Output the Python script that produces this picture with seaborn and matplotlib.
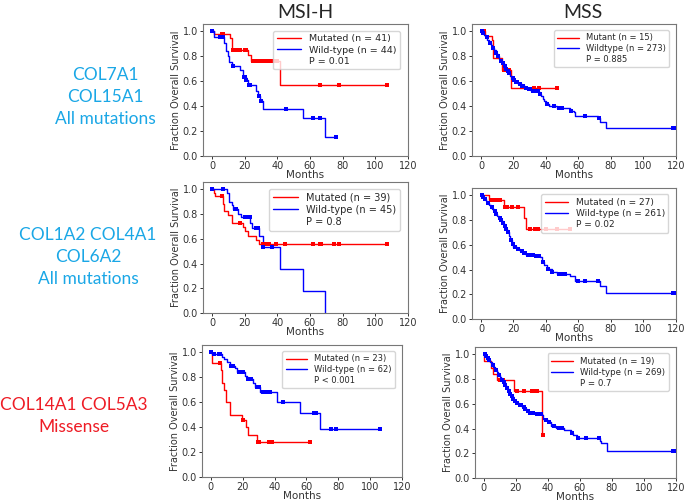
import numpy as np
import matplotlib
matplotlib.use("Agg")
import matplotlib.pyplot as plt
from matplotlib.lines import Line2D
import seaborn as sns

# ---- MSI-H, COL7A1 / COL15A1 ----
p1_mut_t = [0, 1, 11, 12.3, 22.2, 23.9, 41.6, 107]
p1_mut_s = [1.0, 0.976, 0.951, 0.853, 0.81, 0.764, 0.574, 0.574]
p1_mut_c = [6, 7, 13, 14, 15, 16, 17, 20, 21, 25, 27, 29, 30, 31, 32, 34, 36, 38, 40, 66, 78, 107]
p1_wt_t = [0, 1, 7.4, 8.3, 10, 10.6, 12, 13, 17, 19, 21, 22, 27, 28.3, 29.5, 31.2, 56, 69, 76]
p1_wt_s = [1.0, 0.955, 0.91, 0.847, 0.80, 0.753, 0.735, 0.72, 0.69, 0.638, 0.61, 0.568, 0.525,
           0.483, 0.445, 0.38, 0.303, 0.153, 0.153]
p1_wt_c = [0, 5, 7, 13, 19.5, 20, 21, 22.5, 23, 29, 30, 45.5, 62, 66, 76]

# ---- MSS, COL7A1 / COL15A1 ----
p2_mut_t = [0, 2.5, 6.5, 7.2, 12.8, 18.5, 46.5]
p2_mut_s = [1.0, 0.965, 0.93, 0.788, 0.69, 0.55, 0.55]
p2_mut_c = [1.5, 2, 14, 15, 16, 17, 32.5, 36, 46.5]
p2_wt_t = [0, 1, 2, 3, 4, 5, 6, 7, 8, 9, 10, 11, 12, 13, 14, 15, 16, 17, 18, 19, 20, 21, 23, 25,
           27, 29, 31, 36, 37, 38, 39, 40, 42, 47, 55, 57, 58, 72, 73, 77, 119]
p2_wt_s = [1.0, 0.985, 0.97, 0.955, 0.935, 0.91, 0.89, 0.87, 0.85, 0.825, 0.80, 0.78, 0.765,
           0.745, 0.725, 0.70, 0.68, 0.665, 0.645, 0.625, 0.61, 0.595, 0.58, 0.565, 0.545, 0.535,
           0.525, 0.50, 0.48, 0.46, 0.44, 0.42, 0.40, 0.383, 0.365, 0.35, 0.322, 0.303, 0.276,
           0.223, 0.223]
p2_wt_c = [0.5, 1.5, 3.5, 5.5, 7.5, 9.5, 10.5, 12.5, 13.5, 14.5, 15.5, 16.5, 17.5, 19.5, 20.5,
           21.5, 22, 24, 25.5, 26, 27.5, 28, 29.5, 30, 32, 33, 34, 35, 36.5, 40.5, 45, 48, 50,
           55.5, 64, 72.5, 118, 119]

# ---- MSI-H, COL1A2 / COL4A1 / COL6A2 ----
p3_mut_t = [0, 1, 2, 6.5, 7.5, 10, 12, 19, 20.5, 22, 27, 29, 107]
p3_mut_s = [1.0, 0.97, 0.944, 0.88, 0.823, 0.79, 0.729, 0.697, 0.665, 0.627, 0.587, 0.555, 0.555]
p3_mut_c = [6, 17, 31, 32, 33, 35, 39, 45, 62, 66, 67, 75, 78, 107]
p3_wt_t = [0, 9.2, 10.5, 12, 13, 16, 17.5, 23.5, 24.5, 29, 31, 41.5, 56, 69]
p3_wt_s = [1.0, 0.97, 0.90, 0.87, 0.84, 0.80, 0.777, 0.73, 0.689, 0.625, 0.533, 0.355, 0.18, 0.0]
p3_wt_c = [0, 7, 14, 15, 20, 21, 22, 23, 27, 28, 31.5, 36.5]

# ---- MSS, COL1A2 / COL4A1 / COL6A2 ----
p4_mut_t = [0, 4.7, 14, 26.5, 28, 55]
p4_mut_s = [1.0, 0.963, 0.906, 0.815, 0.727, 0.727]
p4_mut_c = [6, 7, 8, 9, 10, 12, 15, 16, 19, 23, 30, 33, 35, 40, 46.5, 55]
p4_wt_t = [0, 1, 2, 3, 4, 5, 6, 7, 8, 9, 10, 11, 12, 13, 14, 15, 16, 17, 18, 19, 20, 22, 24, 26,
           28, 33, 36.5, 37.5, 39, 40.5, 43.5, 47, 55, 58, 73, 77, 119]
p4_wt_s = [1.0, 0.985, 0.97, 0.955, 0.94, 0.925, 0.905, 0.89, 0.87, 0.85, 0.835, 0.815, 0.80,
           0.78, 0.755, 0.73, 0.70, 0.67, 0.64, 0.61, 0.585, 0.567, 0.55, 0.535, 0.52, 0.513,
           0.50, 0.465, 0.44, 0.406, 0.38, 0.364, 0.345, 0.305, 0.265, 0.209, 0.209]
p4_wt_c = [0.5, 1.5, 2.5, 4.5, 6.5, 8.5, 9.5, 11.5, 12.5, 13.5, 14.5, 15.5, 16.5, 18.5, 19.5,
           21, 22.5, 23, 25, 26.5, 27, 29, 30, 31, 32, 34, 35, 36, 38, 41, 44, 48, 50, 52,
           60, 64, 72, 118, 119]

# ---- MSI-H, COL14A1 / COL5A3 missense ----
p5_mut_t = [0, 0.5, 1, 6.5, 7, 8.5, 9.5, 12, 19.5, 22, 23.5, 29, 62]
p5_mut_s = [1.0, 0.955, 0.912, 0.86, 0.752, 0.70, 0.60, 0.501, 0.459, 0.40, 0.339, 0.28, 0.28]
p5_mut_c = [6, 20.5, 29.5, 30.5, 36.5, 38.5, 62]
p5_wt_t = [0, 1, 7, 8, 10, 12, 15, 16.5, 21.5, 22.5, 26.5, 28, 31, 41.5, 56, 68.5, 106.5]
p5_wt_s = [1.0, 0.984, 0.96, 0.945, 0.925, 0.893, 0.872, 0.84, 0.815, 0.787, 0.752, 0.72, 0.68,
           0.60, 0.515, 0.387, 0.387]
p5_wt_c = [0, 2, 5, 6, 13, 14, 18, 19, 20, 23.5, 24.5, 25, 29, 30, 33, 34, 36, 37, 45.5, 65, 66,
           75.5, 78.5, 106.5]

# ---- MSS, COL14A1 / COL5A3 missense ----
p6_mut_t = [0, 0.2, 4.2, 5.5, 8.5, 19, 36.5, 37]
p6_mut_s = [1.0, 0.944, 0.89, 0.843, 0.789, 0.701, 0.349, 0.349]
p6_mut_c = [10, 12, 21, 25, 30, 32, 33.5, 37]
p6_wt_t = [0, 1, 2, 3, 4, 5, 6, 7, 8, 9, 10, 11, 12, 13, 14, 15, 16, 17, 18, 19, 20, 22, 24, 26,
           27, 28, 32, 36.5, 37, 38, 40, 42, 45, 50, 54.6, 56, 58, 72.5, 73, 77, 119]
p6_wt_s = [1.0, 0.985, 0.97, 0.955, 0.935, 0.915, 0.895, 0.875, 0.855, 0.835, 0.815, 0.795,
           0.775, 0.75, 0.725, 0.70, 0.68, 0.66, 0.64, 0.62, 0.605, 0.59, 0.575, 0.555, 0.54,
           0.53, 0.52, 0.51, 0.48, 0.467, 0.45, 0.42, 0.405, 0.387, 0.368, 0.347, 0.325, 0.30,
           0.28, 0.221, 0.221]
p6_wt_c = [0.5, 1.5, 2.5, 3.5, 5.5, 7.5, 9.5, 11.5, 12.5, 13.5, 14.5, 15.5, 16.5, 17.5, 18.5,
           19.5, 21, 22.5, 23, 25, 26, 27.5, 29, 30, 31, 33, 34, 35, 36, 39, 41, 44, 47, 49,
           55, 58.5, 64, 72, 118, 119]

legend_labels = [
    ("Mutated (n = 41)", "Wild-type (n = 44)", "P = 0.01"),
    ("Mutant (n = 15)", "Wildtype (n = 273)", "P = 0.885"),
    ("Mutated (n = 39)", "Wild-type (n = 45)", "P = 0.8"),
    ("Mutated (n = 27)", "Wild-type (n = 261)", "P = 0.02"),
    ("Mutated (n = 23)", "Wild-type (n = 62)", "P < 0.001"),
    ("Mutated (n = 19)", "Wild-type (n = 269)", "P = 0.7"),
]
col_titles = ["MSI-H", "MSS"]
row_labels = ["COL7A1\nCOL15A1\nAll mutations",
              "COL1A2 COL4A1\nCOL6A2\nAll mutations",
              "COL14A1 COL5A3\nMissense"]
row_colors = ["#1aa7e6", "#1aa7e6", "#ee1c25"]

panels = [
    (p1_mut_t, p1_mut_s, p1_mut_c, p1_wt_t, p1_wt_s, p1_wt_c),
    (p2_mut_t, p2_mut_s, p2_mut_c, p2_wt_t, p2_wt_s, p2_wt_c),
    (p3_mut_t, p3_mut_s, p3_mut_c, p3_wt_t, p3_wt_s, p3_wt_c),
    (p4_mut_t, p4_mut_s, p4_mut_c, p4_wt_t, p4_wt_s, p4_wt_c),
    (p5_mut_t, p5_mut_s, p5_mut_c, p5_wt_t, p5_wt_s, p5_wt_c),
    (p6_mut_t, p6_mut_s, p6_mut_c, p6_wt_t, p6_wt_s, p6_wt_c),
]

sns.set_style("ticks")
plt.rcParams["font.family"] = ["DejaVu Sans"]

W, H = 685, 501
fig = plt.figure(figsize=(W / 100, H / 100), dpi=100)

# axes boxes in pixels: left, right, top, bottom
boxes = [(203, 408, 24, 156), (472, 676, 24, 156),
         (203, 408, 182, 313), (472, 676, 188, 319),
         (202, 402, 345, 477), (475, 676, 347, 478)]
legend_sizes = [6.8, 6.0, 7.0, 6.5, 6.0, 6.2]


def step_value(t, s, x):
    idx = np.searchsorted(np.asarray(t), x, side="right") - 1
    return np.asarray(s)[np.clip(idx, 0, len(s) - 1)]


def draw_km(ax, t, s, cens, color, label):
    sns.lineplot(x=t, y=s, ax=ax, color=color, lw=1.0, drawstyle="steps-post",
                 estimator=None, sort=False, label=label, legend=False)
    sns.scatterplot(x=cens, y=step_value(t, s, cens), ax=ax, color=color,
                    marker="s", s=7, linewidth=0, legend=False, zorder=3)


for i, (box, data, labels) in enumerate(zip(boxes, panels, legend_labels)):
    l, r, t, b = box
    ax = fig.add_axes([l / W, 1 - b / H, (r - l) / W, (b - t) / H])
    mt, ms, mc, wt, ws, wc = data
    draw_km(ax, mt, ms, mc, "red", labels[0])
    draw_km(ax, wt, ws, wc, "blue", labels[1])
    ax.set_xlim(-5.5, 120)
    ax.set_ylim(0, 1.06)
    ax.set_xticks([0, 20, 40, 60, 80, 100, 120])
    ax.set_yticks([0.0, 0.2, 0.4, 0.6, 0.8, 1.0])
    ax.tick_params(labelsize=7, length=2.5, width=0.7, colors="#333333", pad=1.2)
    for sp in ax.spines.values():
        sp.set_color("#777777")
        sp.set_linewidth(0.8)
    ax.set_ylabel("Fraction Overall Survival", fontsize=7, color="#333333", labelpad=1)
    ax.set_xlabel("Months", fontsize=7.5, color="#333333", labelpad=-0.5)
    handles = [Line2D([], [], color="red", lw=1.0),
               Line2D([], [], color="blue", lw=1.0),
               Line2D([], [], color="none")]
    ax.legend(handles, labels, loc="upper right", fontsize=legend_sizes[i],
              frameon=True, handlelength=2.6, borderpad=0.4, labelspacing=0.22,
              bbox_to_anchor=(0.985, 0.985))

fig.text(305 / W, 1 - 13 / H, col_titles[0], ha="center", va="center",
         fontsize=14, family="Lato")
fig.text(583 / W, 1 - 13 / H, col_titles[1], ha="center", va="center",
         fontsize=14, family="Lato")

fig.text(105 / W, 1 - 97 / H, row_labels[0], ha="center", va="center", fontsize=12.5,
         family="Lato", color=row_colors[0], linespacing=1.5)
fig.text(88 / W, 1 - 257 / H, row_labels[1], ha="center", va="center", fontsize=12.5,
         family="Lato", color=row_colors[1], linespacing=1.5)
fig.text(74 / W, 1 - 416 / H, row_labels[2], ha="center", va="center", fontsize=12.5,
         family="Lato", color=row_colors[2], linespacing=1.5)

fig.savefig("out.png", dpi=100)
